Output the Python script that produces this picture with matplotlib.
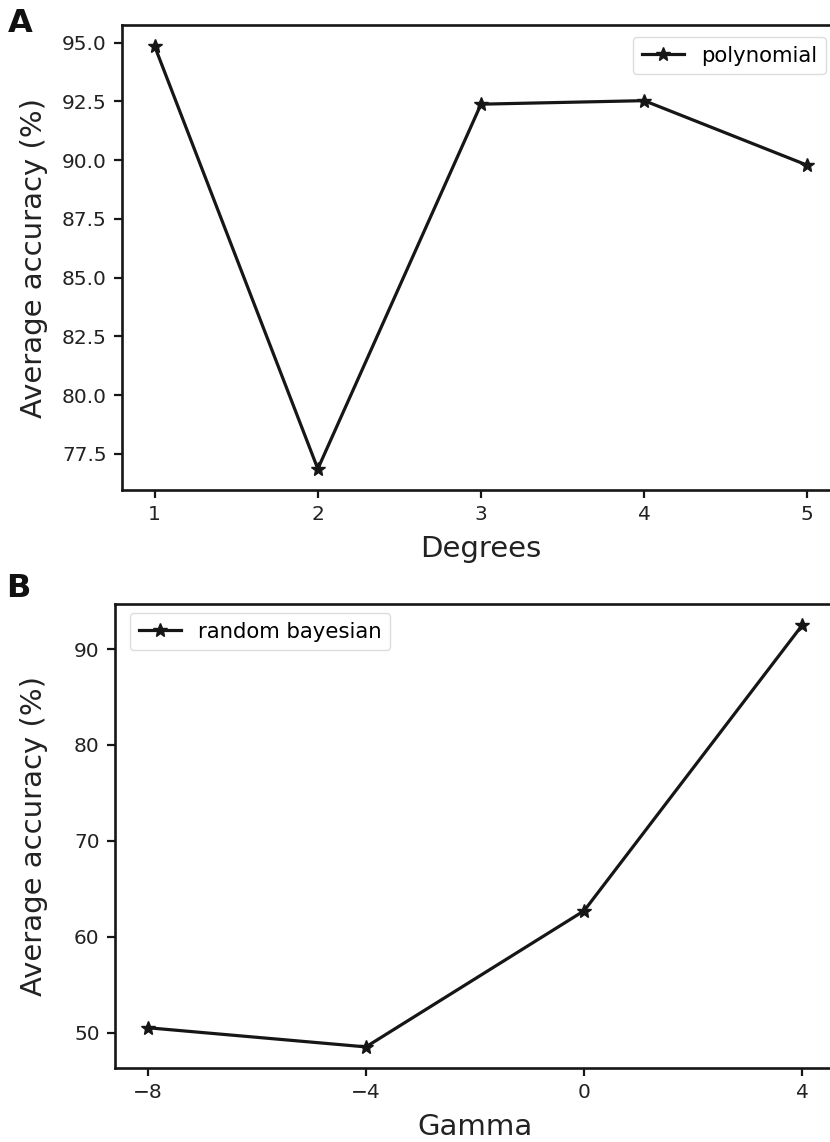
import matplotlib
matplotlib.use("Agg")
import matplotlib.pyplot as plt

degrees = [1, 2, 3, 4, 5]
poly_acc = [94.85, 76.86, 92.38, 92.53, 89.78]

gamma = [-8, -4, 0, 4]
bayes_acc = [50.5, 48.5, 62.7, 92.5]

W, H = 830, 1142
fig = plt.figure(figsize=(W / 100, H / 100), dpi=100)

plt.rcParams['font.family'] = ['DejaVu Sans']

LC = '#161616'
TICK_FS = 14.5
LEG_FS = 15.3
LAB_FS = 21

def style(ax):
    for s in ax.spines.values():
        s.set_linewidth(1.9)
        s.set_color(LC)
    ax.tick_params(axis='both', which='major', length=6, width=1.6,
                   labelsize=TICK_FS, color=LC, labelcolor='#222222', pad=5)

def px(l, t, r, b):
    return [l / W, 1 - b / H, (r - l) / W, (b - t) / H]

axA = fig.add_axes(px(122, 25, 840, 490))
axA.plot(degrees, poly_acc, color=LC, lw=2.3, marker='*', ms=10, label='polynomial')
axA.set_yticks([77.5, 80.0, 82.5, 85.0, 87.5, 90.0, 92.5, 95.0])
axA.set_yticklabels(['77.5', '80.0', '82.5', '85.0', '87.5', '90.0', '92.5', '95.0'])
axA.set_xticks(degrees)
axA.set_xlabel('Degrees', fontsize=LAB_FS, color='#222222')
axA.set_ylabel('Average accuracy (%)', fontsize=LAB_FS, color='#222222')
axA.yaxis.set_label_coords(-0.103, 0.5)
axA.xaxis.set_label_coords(0.5, -0.096)
style(axA)
axA.legend(loc='upper left', bbox_to_anchor=((633 - 122) / 718, 1 - (37 - 25) / 465),
           fontsize=LEG_FS, borderaxespad=0, handlelength=2.0, framealpha=1,
           edgecolor='#dddddd')

axB = fig.add_axes(px(115, 604, 835, 1068))
axB.plot(gamma, bayes_acc, color=LC, lw=2.3, marker='*', ms=10, label='random bayesian')
axB.set_xticks([-8, -4, 0, 4])
axB.set_xticklabels(['\u22128', '\u22124', '0', '4'])
axB.set_yticks([50, 60, 70, 80, 90])
axB.set_xlabel('Gamma', fontsize=LAB_FS, color='#222222')
axB.set_ylabel('Average accuracy (%)', fontsize=LAB_FS, color='#222222')
axB.yaxis.set_label_coords(-0.093, 0.5)
axB.xaxis.set_label_coords(0.5, -0.096)
style(axB)
axB.legend(loc='upper left', bbox_to_anchor=((130 - 115) / 720, 1 - (613 - 604) / 464),
           fontsize=LEG_FS, borderaxespad=0, handlelength=2.0, framealpha=1,
           edgecolor='#dddddd')

fig.text(8 / W, 1 - 8 / H, 'A', fontsize=23, fontweight='bold', va='top', ha='left', color='#111111')
fig.text(6 / W, 1 - 573 / H, 'B', fontsize=23, fontweight='bold', va='top', ha='left', color='#111111')

fig.savefig('out.png', dpi=100)
